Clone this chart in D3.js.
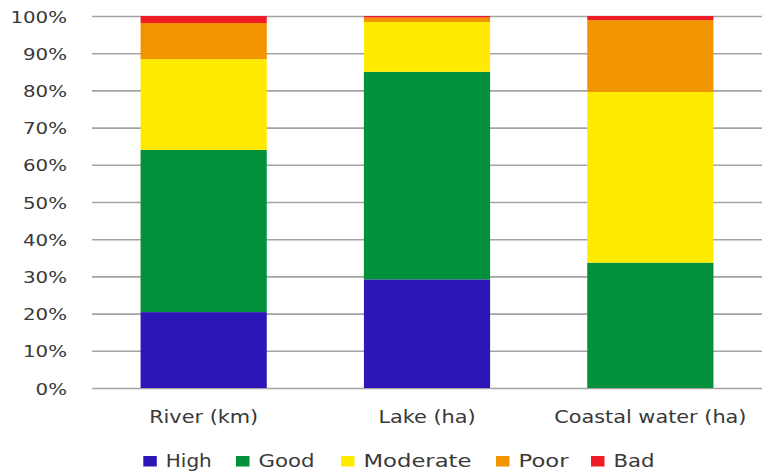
<!DOCTYPE html>
<html>
<head>
<meta charset="utf-8">
<script src="https://cdn.jsdelivr.net/npm/d3@7"></script>
<style>
  html, body { margin: 0; padding: 0; background: #fff; }
  svg text { font-family: "DejaVu Sans", Verdana, sans-serif; fill: #383838; }
</style>
</head>
<body>
<svg id="chart" width="765" height="471"></svg>
<script>
// Water body status shares (percent of total)
const categories = ["River (km)", "Lake (ha)", "Coastal water (ha)"];
const classes = ["High", "Good", "Moderate", "Poor", "Bad"];
const high     = [20.4, 29.2, 0.0];
const good     = [43.6, 55.8, 33.7];
const moderate = [24.4, 13.4, 45.9];
const poor     = [9.7, 1.2, 19.3];
const bad      = [1.9, 0.4, 1.1];
const yTicks = [0, 10, 20, 30, 40, 50, 60, 70, 80, 90, 100];

const colors = {
  High: "#2d16b8",
  Good: "#00913a",
  Moderate: "#ffea00",
  Poor: "#f29400",
  Bad: "#ee1c25"
};

// Legend layout: left edge of each swatch and the width of its label
const legendLeft = [143.3, 236, 341, 496, 591];
const legendLabelWidth = [46, 56, 108, 50, 41];

const seriesValues = { High: high, Good: good, Moderate: moderate, Poor: poor, Bad: bad };
const rows = categories.map((c, i) => {
  const r = { category: c };
  classes.forEach(k => { r[k] = seriesValues[k][i]; });
  return r;
});

const plotLeft = 92, plotRight = 762, plotTop = 16, plotBottom = 388;

const svg = d3.select("#chart");

const x = d3.scaleBand()
  .domain(categories)
  .range([plotLeft, plotRight])
  .paddingInner(0.435)
  .paddingOuter(0.2175);

const y = d3.scaleLinear().domain([0, 100]).range([plotBottom, plotTop]);

// Gridlines with percentage labels
const yStretch = 1.2;
const yAxis = svg.append("g")
  .attr("transform", `translate(${plotLeft},0)`)
  .call(d3.axisLeft(y)
    .tickValues(yTicks)
    .tickFormat(d => d + "%")
    .tickSizeInner(-(plotRight - plotLeft))
    .tickSizeOuter(0));
yAxis.select(".domain").remove();
yAxis.selectAll(".tick line")
  .attr("stroke", "#a3a3a3")
  .attr("stroke-width", 1.6);
yAxis.selectAll(".tick text")
  .attr("x", -25 / yStretch)
  .attr("dy", "0.37em")
  .attr("transform", `scale(${yStretch},1)`)
  .style("font-size", "16.5px");

// Stacked bars
const stack = d3.stack().keys(classes);
const layers = stack(rows);

svg.append("g")
  .selectAll("g")
  .data(layers)
  .join("g")
  .attr("fill", d => colors[d.key])
  .selectAll("rect")
  .data(d => d)
  .join("rect")
  .attr("x", d => x(d.data.category))
  .attr("width", x.bandwidth())
  .attr("y", d => y(d[1]))
  .attr("height", d => y(d[0]) - y(d[1]));

// Category labels
const xStretch = 1.19;
const xAxis = svg.append("g")
  .attr("transform", `translate(0,${plotBottom})`)
  .call(d3.axisBottom(x).tickSize(0));
xAxis.select(".domain").remove();
xAxis.selectAll(".tick text")
  .attr("y", 35)
  .attr("dy", null)
  .attr("transform", `scale(${xStretch},1)`)
  .style("font-size", "17.5px");

// Legend
const legend = svg.append("g");
classes.forEach((k, i) => {
  const g = legend.append("g").attr("transform", `translate(${legendLeft[i]},0)`);
  g.append("rect")
    .attr("x", 0).attr("y", 456)
    .attr("width", 13.5).attr("height", 10.5)
    .attr("fill", colors[k]);
  g.append("text")
    .attr("x", 22.5)
    .attr("y", 466.5)
    .attr("textLength", legendLabelWidth[i])
    .attr("lengthAdjust", "spacingAndGlyphs")
    .style("font-size", "17.5px")
    .text(k);
});
</script>
</body>
</html>
